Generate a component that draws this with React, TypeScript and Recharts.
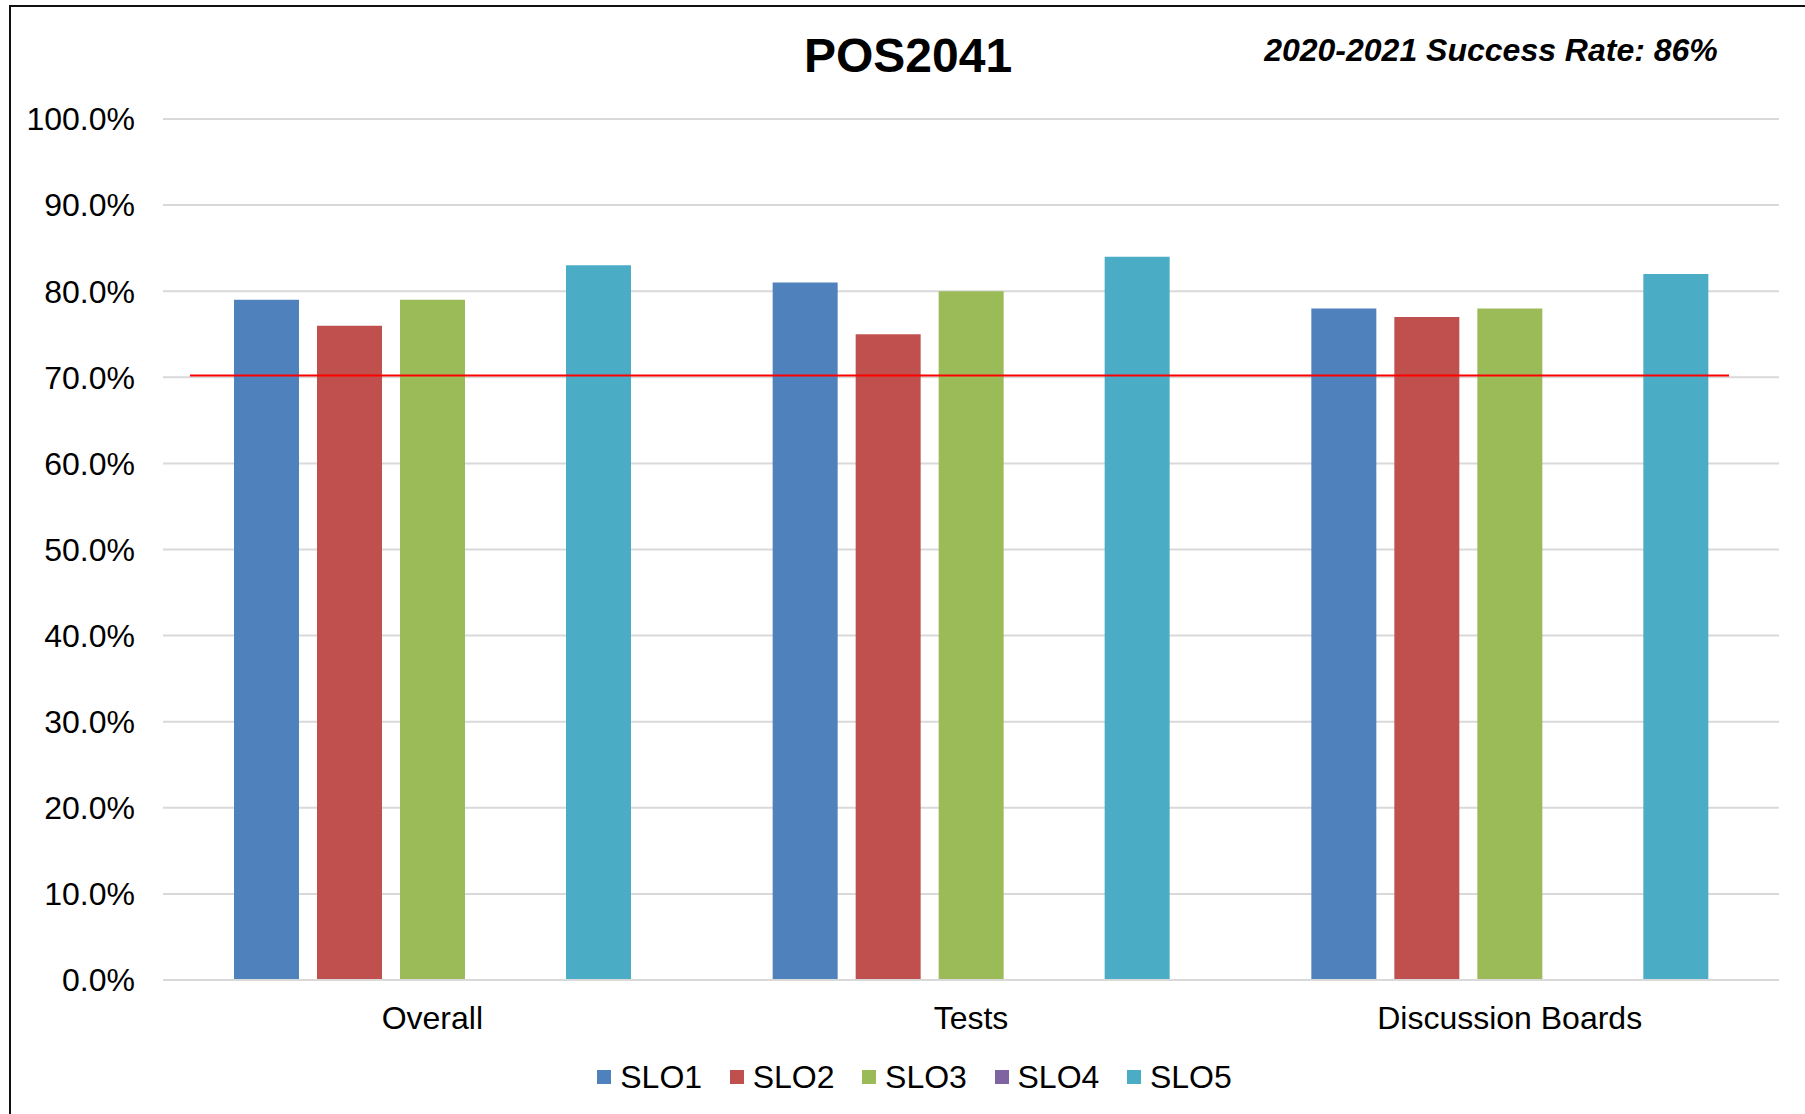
import React from "react";
import {
  BarChart,
  Bar,
  XAxis,
  YAxis,
  CartesianGrid,
  Legend,
  ReferenceLine
} from "recharts";

const categories = ["Overall", "Tests", "Discussion Boards"];
const slo1 = [79, 81, 78];
const slo2 = [76, 75, 77];
const slo3 = [79, 80, 78];
const slo4: (number | null)[] = [null, null, null];
const slo5 = [83, 84, 82];
const yTicks = [0, 10, 20, 30, 40, 50, 60, 70, 80, 90, 100];
const benchmark = 70.2;

const series = [
  { key: "SLO1", values: slo1, color: "#4f81bd" },
  { key: "SLO2", values: slo2, color: "#c0504d" },
  { key: "SLO3", values: slo3, color: "#9bbb59" },
  { key: "SLO4", values: slo4, color: "#8064a2" },
  { key: "SLO5", values: slo5, color: "#4bacc6" }
];

const FONT = '"Liberation Sans", Arial, Helvetica, sans-serif';

const App: React.FC = () => {
  // build rows for recharts
  const data = categories.map((name, i) => {
    const row: { [key: string]: any } = { name };
    series.forEach((s) => {
      row[s.key] = s.values[i];
    });
    return row;
  });

  const renderLegend = (props: any) => {
    const { payload } = props;
    return (
      <div
        style={{
          display: "flex",
          justifyContent: "center",
          alignItems: "center",
          height: 40,
          paddingLeft: 50,
          fontFamily: FONT,
          fontSize: 32,
          color: "#000"
        }}
      >
        {payload.map((entry: any, index: number) => (
          <div
            key={`leg-${index}`}
            style={{
              display: "flex",
              alignItems: "center",
              marginRight: index < payload.length - 1 ? 27.6 : 0
            }}
          >
            <span
              style={{
                display: "inline-block",
                width: 14,
                height: 14,
                background: entry.color,
                marginRight: 9
              }}
            />
            <span>{entry.value}</span>
          </div>
        ))}
      </div>
    );
  };

  const redLine = (props: any) => (
    <line
      x1={props.x1 + 27}
      y1={props.y1}
      x2={props.x2 - 50}
      y2={props.y2}
      stroke="#ff0000"
      strokeWidth={2}
    />
  );

  return (
    <div
      style={{
        position: "absolute",
        left: 0,
        top: 0,
        width: 1805,
        height: 1114,
        overflow: "hidden",
        background: "#fff",
        fontFamily: FONT
      }}
    >
      <div
        style={{
          position: "absolute",
          left: 9,
          top: 5,
          width: 2000,
          height: 2000,
          borderLeft: "2px solid #111",
          borderTop: "2px solid #111"
        }}
      />
      <div
        style={{
          position: "absolute",
          left: 0,
          top: 26,
          width: 1816,
          lineHeight: "60px",
          textAlign: "center",
          fontSize: 48,
          fontWeight: "bold",
          color: "#000"
        }}
      >
        POS2041
      </div>
      <div
        style={{
          position: "absolute",
          left: 1191,
          top: 30,
          width: 600,
          lineHeight: "40px",
          textAlign: "center",
          fontSize: 32,
          fontWeight: "bold",
          fontStyle: "italic",
          color: "#000"
        }}
      >
        2020-2021 Success Rate: 86%
      </div>
      <div style={{ position: "absolute", left: 0, top: 0 }}>
        <BarChart
          width={1805}
          height={1114}
          data={data}
          margin={{ top: 119, right: 26, left: 0, bottom: 17 }}
          barSize={65}
          barGap={18}
        >
          <CartesianGrid
            vertical={false}
            stroke="#d9d9d9"
            strokeWidth={2}
          />
          <XAxis
            dataKey="name"
            height={77}
            tickLine={false}
            axisLine={{ stroke: "#d9d9d9", strokeWidth: 2 }}
            tickMargin={20}
            tick={{ fill: "#000", fontSize: 32, fontFamily: FONT }}
          />
          <YAxis
            width={163}
            domain={[0, 100]}
            ticks={yTicks}
            interval={0}
            tickLine={false}
            axisLine={false}
            tickMargin={22}
            tickFormatter={(v) => `${Number(v).toFixed(1)}%`}
            tick={{ fill: "#000", fontSize: 32, fontFamily: FONT }}
          />
          <Legend
            verticalAlign="bottom"
            align="center"
            height={40}
            content={renderLegend}
          />
          {series.map((s) => (
            <Bar
              key={s.key}
              dataKey={s.key}
              fill={s.color}
              isAnimationActive={false}
            />
          ))}
          <ReferenceLine y={benchmark} shape={redLine} ifOverflow="visible" />
        </BarChart>
      </div>
    </div>
  );
};

export default App;
